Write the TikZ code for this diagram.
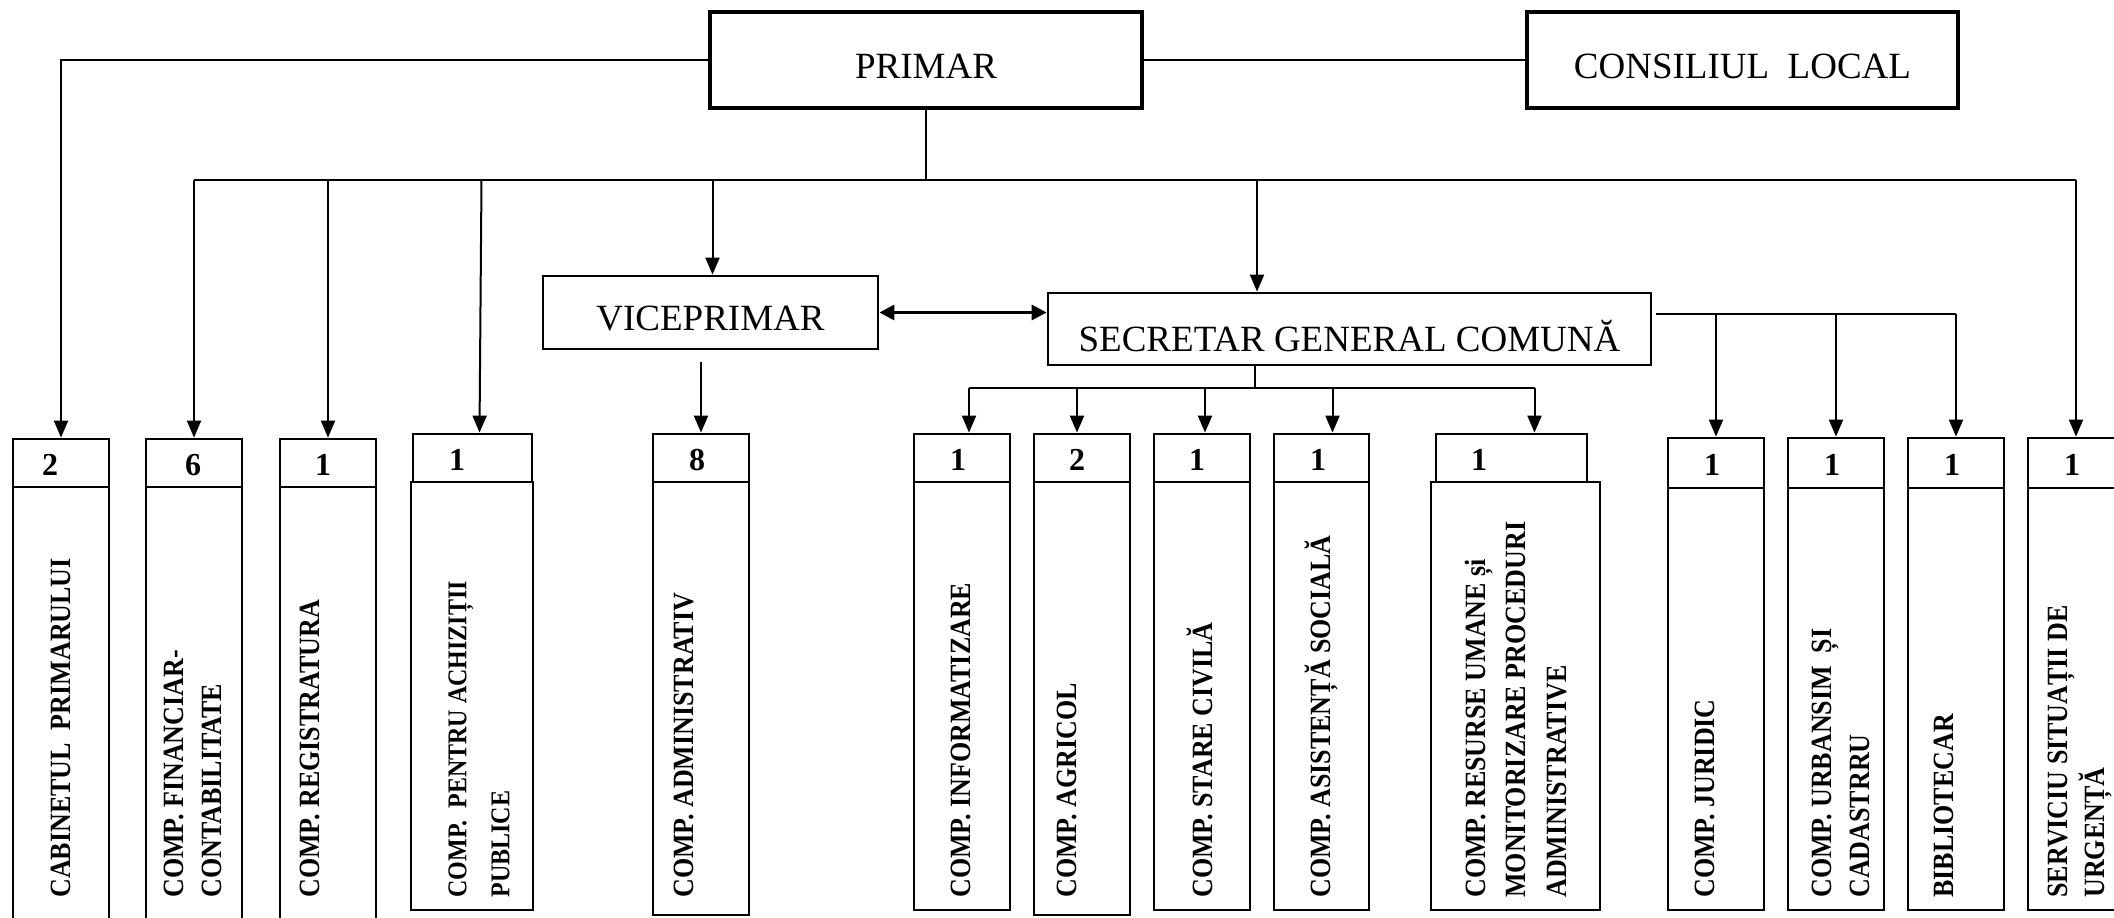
\documentclass[tikz,border=0pt]{standalone}
\usepackage{fontspec}
\setmainfont{Liberation Serif}
\usetikzlibrary{fit,arrows.meta,calc}
\begin{document}
\begin{tikzpicture}[x=0.5pt,y=-0.5pt,
  bx/.style={draw,line width=1.4pt,inner sep=0pt},
  tbx/.style={draw,line width=1.7pt,inner sep=0pt},
  lnk/.style={line width=1pt},
  arr/.style={line width=1pt,-{Triangle[length=8.5pt,width=7pt]}},
  darr/.style={line width=1.6pt,{Triangle[length=7.5pt,width=7.5pt]}-{Triangle[length=7.5pt,width=7.5pt]}},
  numtxt/.style={font=\fontsize{16}{18}\selectfont\bfseries,inner sep=0pt},
  vtxt/.style={rotate=90,yscale=1.13,anchor=west,align=left,inner sep=0pt,font=\fontsize{13}{17}\selectfont\bfseries},
  big/.style={font=\fontsize{18.5}{22}\selectfont,inner sep=0pt}
]
\useasboundingbox (0,0) rectangle (2114,917);

% top boxes
\node[tbx,fit={(710,12)(1142,108)}] (primar) {};
\node[big] (tprimar) at ($(primar.center)+(0,6)$) {PRIMAR};
\node[tbx,fit={(1527,12)(1958,108)}] (consiliu) {};
\node[big] (tconsiliu) at ($(consiliu.center)+(0,6)$) {CONSILIUL\ \ LOCAL};
\node[bx,fit={(543,276)(878,349)}] (vice) {};
\node[big] (tvice) at ($(vice.center)+(0,6)$) {VICEPRIMAR};
\node[bx,fit={(1048,293)(1651,365)}] (sec) {};
\node[big] (tsec) at ($(sec.center)+(0,7)$) {SECRETAR GENERAL COMUNĂ};

% bottom boxes
\node[bx,fit={(13,439)(109,487)}] (cabn) {};
\node[bx,fit={(13,487)(109,925)}] (cabm) {};
\node[numtxt] at (50,465) {2};
\node[vtxt] at (61,898) {CABINETUL\ \ PRIMARULUI};

\node[bx,fit={(146,439)(242,487)}] (finn) {};
\node[bx,fit={(146,487)(242,925)}] (finm) {};
\node[numtxt] at (193,465) {6};
\node[vtxt] at (193,898) {COMP. FINANCIAR-\\CONTABILITATE};

\node[bx,fit={(280,439)(376,487)}] (regn) {};
\node[bx,fit={(280,487)(376,925)}] (regm) {};
\node[numtxt] at (323,465) {1};
\node[vtxt] at (310,898) {COMP. REGISTRATURA};

\node[bx,fit={(413,434)(532,482)}] (achn) {};
\node[bx,fit={(411,482)(533,910)}] (achm) {};
\node[numtxt] at (457,460) {1};
\node[vtxt,font=\fontsize{12}{19}\selectfont\bfseries] at (479,898) {COMP.\ \ PENTRU ACHIZIȚII\\PUBLICE};

\node[bx,fit={(653,434)(749,482)}] (admn) {};
\node[bx,fit={(653,482)(749,915)}] (admm) {};
\node[numtxt] at (697,460) {8};
\node[vtxt] at (684,898) {COMP. ADMINISTRATIV};

\node[bx,fit={(914,434)(1010,482)}] (infn) {};
\node[bx,fit={(914,482)(1010,910)}] (infm) {};
\node[numtxt] at (958,460) {1};
\node[vtxt] at (961,898) {COMP. INFORMATIZARE};

\node[bx,fit={(1034,434)(1130,482)}] (agrn) {};
\node[bx,fit={(1034,482)(1130,915)}] (agrm) {};
\node[numtxt] at (1077,460) {2};
\node[vtxt] at (1067,898) {COMP. AGRICOL};

\node[bx,fit={(1154,434)(1250,482)}] (stan) {};
\node[bx,fit={(1154,482)(1250,910)}] (stam) {};
\node[numtxt] at (1197,460) {1};
\node[vtxt] at (1200,898) {COMP. STARE CIVILĂ};

\node[bx,fit={(1274,434)(1369,482)}] (asin) {};
\node[bx,fit={(1274,482)(1369,910)}] (asim) {};
\node[numtxt] at (1318,460) {1};
\node[vtxt] at (1321,898) {COMP. ASISTENȚĂ SOCIALĂ};

\node[bx,fit={(1436,434)(1587,482)}] (resn) {};
\node[bx,fit={(1431,482)(1600,910)}] (resm) {};
\node[numtxt] at (1479,460) {1};
\node[vtxt,font=\fontsize{13}{18}\selectfont\bfseries] at (1516,898) {COMP. RESURSE UMANE și\\MONITORIZARE PROCEDURI\\ADMINISTRATIVE};

\node[bx,fit={(1668,438)(1764,488)}] (jurn) {};
\node[bx,fit={(1668,488)(1764,910)}] (jurm) {};
\node[numtxt] at (1712,465) {1};
\node[vtxt] at (1705,898) {COMP. JURIDIC};

\node[bx,fit={(1788,438)(1884,488)}] (urbn) {};
\node[bx,fit={(1788,488)(1884,910)}] (urbm) {};
\node[numtxt] at (1832,465) {1};
\node[vtxt] at (1841,898) {COMP. URBANSIM\ \ ȘI\\CADASTRRU};

\node[bx,fit={(1908,438)(2004,488)}] (bibn) {};
\node[bx,fit={(1908,488)(2004,910)}] (bibm) {};
\node[numtxt] at (1952,465) {1};
\node[vtxt] at (1944,898) {BIBLIOTECAR};

\node[bx,fit={(2028,438)(2124,488)}] (servn) {};
\node[bx,fit={(2028,488)(2124,910)}] (servm) {};
\node[numtxt] at (2072,465) {1};
\node[vtxt,font=\fontsize{13}{16}\selectfont\bfseries] at (2080,898) {SERVICIU SITUAȚII DE\\URGENȚĂ};

% connectors from PRIMAR
\draw[arr] (primar.west) -| (cabn.north);
\draw[lnk] (primar.east) -- (consiliu.west);
\coordinate (bus) at (926,180);
\draw[lnk] (primar.south) -- (bus);
\draw[lnk] (finn.north |- bus) -- (servn.north |- bus);
\draw[arr] (finn.north |- bus) -- (finn.north);
\draw[arr] (regn.north |- bus) -- (regn.north);
\coordinate (achtop) at ($(achn.north)+(9,0)$);
\coordinate (achbot) at ($(achn.north)+(7,0)$);
\draw[arr] (achtop |- bus) -- (achbot);
\coordinate (vtop) at ($(vice.north)+(2,0)$);
\draw[arr] (vtop |- bus) -- (vtop);
\coordinate (stop) at (1257,180);
\draw[arr] (stop) -- (stop |- sec.north);
\draw[arr] (servn.north |- bus) -- (servn.north);

% VICEPRIMAR <-> SECRETAR
\draw[darr] (vice.east) -- (vice.east -| sec.west);
% VICEPRIMAR -> administrativ
\draw[arr,shorten <=6pt] (admn.north |- vice.south) -- (admn.north);

% SECRETAR -> bottom group
\coordinate (sb) at (1255,388);
\draw[lnk] (sb |- sec.south) -- (sb);
\coordinate (a1) at ($(infn.north)+(7,0)$);
\coordinate (a2) at ($(agrn.north)+(-5,0)$);
\coordinate (a3) at ($(stan.north)+(3,0)$);
\coordinate (a4) at ($(asin.north)+(11,0)$);
\coordinate (a5) at ($(resn.north)+(23,0)$);
\draw[line width=1.3pt] (a1 |- sb) -- (a5 |- sb);
\foreach \p in {a1,a2,a3,a4,a5} \draw[arr] (\p |- sb) -- (\p);

% SECRETAR -> right group
\coordinate (sr) at (1656,314);
\draw[line width=1.4pt] (sr) -- (sr -| bibn.north);
\draw[arr] (jurn.north |- sr) -- (jurn.north);
\draw[arr] (urbn.north |- sr) -- (urbn.north);
\draw[arr] (bibn.north |- sr) -- (bibn.north);
\end{tikzpicture}
\end{document}
